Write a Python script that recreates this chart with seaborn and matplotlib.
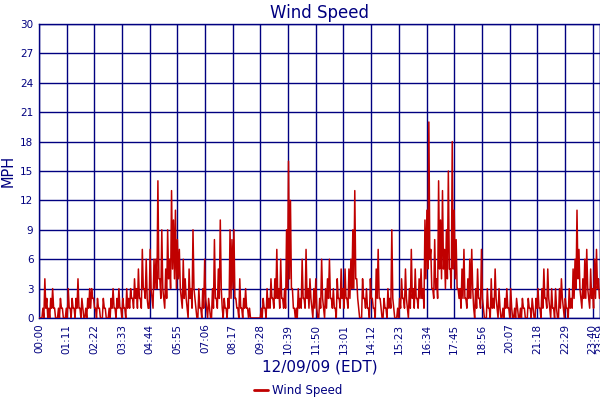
import numpy as np
import pandas as pd
import matplotlib
matplotlib.use("Agg")
import matplotlib.pyplot as plt
import seaborn as sns

# Wind speed (MPH): the high reading in each 5-minute slot
speed_00_05 = [0, 0, 1, 4, 2, 1, 2, 3, 1, 0, 1, 2,
               1, 0, 1, 3, 1, 2, 1, 2, 4, 1, 2, 0,
               1, 2, 3, 3, 2, 1, 2, 1, 0, 2, 1, 0,
               1, 2, 3, 1, 2, 3, 1, 2, 1, 3, 2, 3,
               2, 4, 3, 5, 2, 7, 3, 6, 1, 7, 2, 6,
               6, 14, 4, 9, 2, 5, 9, 6, 13, 10, 11, 8]
speed_06_11 = [7, 2, 6, 4, 1, 5, 3, 9, 2, 0, 3, 1,
               3, 6, 1, 2, 0, 3, 8, 2, 5, 10, 1, 2,
               1, 2, 9, 8, 9, 2, 1, 4, 1, 2, 3, 1,
               1, 0, 0, 0, 0, 0, 1, 2, 1, 3, 2, 4,
               2, 4, 7, 3, 6, 2, 3, 9, 16, 12, 3, 1,
               1, 3, 2, 6, 2, 7, 3, 4, 1, 3, 4, 0]
speed_12_17 = [2, 6, 1, 3, 4, 6, 2, 3, 1, 4, 2, 5,
               3, 5, 2, 5, 6, 9, 13, 4, 1, 0, 4, 2,
               3, 1, 4, 2, 1, 5, 7, 2, 0, 2, 1, 3,
               2, 9, 1, 0, 1, 2, 4, 2, 5, 1, 3, 7,
               3, 5, 2, 4, 5, 3, 10, 11, 20, 7, 3, 8,
               4, 14, 10, 13, 7, 9, 15, 5, 18, 11, 8, 3]
speed_18_23 = [3, 5, 7, 2, 4, 6, 7, 1, 3, 5, 2, 7,
               1, 0, 3, 1, 4, 2, 5, 1, 3, 0, 1, 2,
               3, 1, 3, 0, 1, 2, 0, 1, 2, 1, 0, 2,
               1, 2, 0, 2, 3, 1, 3, 5, 2, 5, 1, 3,
               1, 3, 0, 3, 4, 1, 2, 1, 3, 2, 5, 6,
               11, 7, 2, 4, 6, 7, 2, 5, 3, 6, 7, 4]

# the low reading in each 5-minute slot (gaps in the red mass)
low_00_05 = [0, 0, 0, 1, 0, 0, 1, 1, 0, 0, 0, 1,
             0, 0, 0, 1, 0, 1, 0, 1, 1, 0, 1, 0,
             0, 1, 1, 2, 1, 0, 1, 0, 0, 1, 0, 0,
             0, 1, 1, 0, 1, 1, 0, 1, 0, 1, 1, 2,
             1, 2, 1, 2, 1, 3, 2, 2, 1, 3, 1, 3,
             3, 4, 2, 3, 1, 2, 4, 3, 5, 4, 3, 4]
low_06_11 = [3, 1, 2, 2, 0, 2, 1, 3, 1, 0, 1, 0,
             1, 2, 0, 1, 0, 1, 2, 1, 2, 3, 0, 1,
             0, 1, 2, 3, 2, 1, 0, 1, 0, 1, 1, 0,
             0, 0, 0, 0, 0, 0, 0, 1, 0, 1, 1, 2,
             1, 2, 2, 1, 2, 1, 1, 3, 4, 3, 1, 0,
             0, 1, 1, 2, 1, 2, 1, 2, 0, 1, 1, 0]
low_12_17 = [1, 2, 0, 1, 2, 2, 1, 1, 0, 2, 1, 2,
             1, 2, 1, 2, 3, 3, 4, 2, 0, 0, 2, 1,
             1, 0, 2, 1, 0, 2, 2, 1, 0, 1, 0, 1,
             1, 2, 0, 0, 0, 1, 2, 1, 2, 0, 1, 2,
             1, 2, 1, 2, 2, 1, 4, 5, 6, 3, 2, 3,
             2, 5, 4, 5, 3, 4, 5, 3, 5, 4, 3, 2]
low_18_23 = [1, 2, 2, 1, 2, 2, 3, 0, 1, 2, 1, 2,
             0, 0, 1, 0, 1, 1, 2, 0, 1, 0, 0, 1,
             1, 0, 1, 0, 0, 1, 0, 0, 1, 0, 0, 1,
             0, 1, 0, 1, 1, 0, 1, 2, 1, 2, 0, 1,
             0, 1, 0, 1, 2, 0, 1, 0, 1, 1, 2, 3,
             4, 3, 1, 2, 2, 3, 1, 2, 1, 2, 3, 2]

tick_minutes = [0, 71, 142, 213, 284, 355, 426, 497, 568, 639, 710, 781,
                852, 923, 994, 1065, 1136, 1207, 1278, 1349, 1420, 1439]
tick_labels = ["00:00", "01:11", "02:22", "03:33", "04:44", "05:55", "07:06",
               "08:17", "09:28", "10:39", "11:50", "13:01", "14:12", "15:23",
               "16:34", "17:45", "18:56", "20:07", "21:18", "22:29", "23:40",
               "23:59"]
y_ticks = [0, 3, 6, 9, 12, 15, 18, 21, 24, 27, 30]

high = speed_00_05 + speed_06_11 + speed_12_17 + speed_18_23
low = low_00_05 + low_06_11 + low_12_17 + low_18_23
slot = np.arange(len(high)) * 5.0
df = pd.concat([
    pd.DataFrame({"minute": slot, "mph": high}),
    pd.DataFrame({"minute": slot + 2.5, "mph": low}),
]).sort_values("minute").reset_index(drop=True)

navy = "#000080"
red = "#C00000"

sns.set_style("white")
plt.rcParams["font.family"] = ["DejaVu Sans"]

fig = plt.figure(figsize=(6, 4), dpi=100)
ax = fig.add_axes([0.065, 0.205, 0.935, 0.735])

sns.lineplot(data=df, x="minute", y="mph", ax=ax, color=red, linewidth=1.1,
             label="Wind Speed", legend=False, zorder=3)

ax.set_xlim(0, 1439)
ax.set_ylim(0, 30)
ax.set_xticks(tick_minutes)
ax.set_xticklabels(tick_labels, rotation=90)
ax.set_yticks(y_ticks)
ax.grid(True, color=navy, linewidth=1.0, zorder=1)
ax.set_axisbelow(True)
ax.tick_params(axis="both", length=0, labelsize=7.5, labelcolor=navy, pad=4)
for s in ax.spines.values():
    s.set_color(navy)
    s.set_linewidth(1.0)

ax.set_title("Wind Speed", color=navy, fontsize=12, pad=4)
ax.set_ylabel("MPH", color=navy, fontsize=10.5, labelpad=3)
ax.set_xlabel("12/09/09 (EDT)", color=navy, fontsize=11, labelpad=4)

handles, labels = ax.get_legend_handles_labels()
leg = fig.legend(handles, labels, loc="lower center", bbox_to_anchor=(0.497, -0.02),
                 frameon=False, fontsize=8.5, handlelength=1.2, handletextpad=0.4)
for t in leg.get_texts():
    t.set_color(navy)
for h in leg.get_lines():
    h.set_linewidth(2.0)

fig.savefig("out.png", dpi=100)
